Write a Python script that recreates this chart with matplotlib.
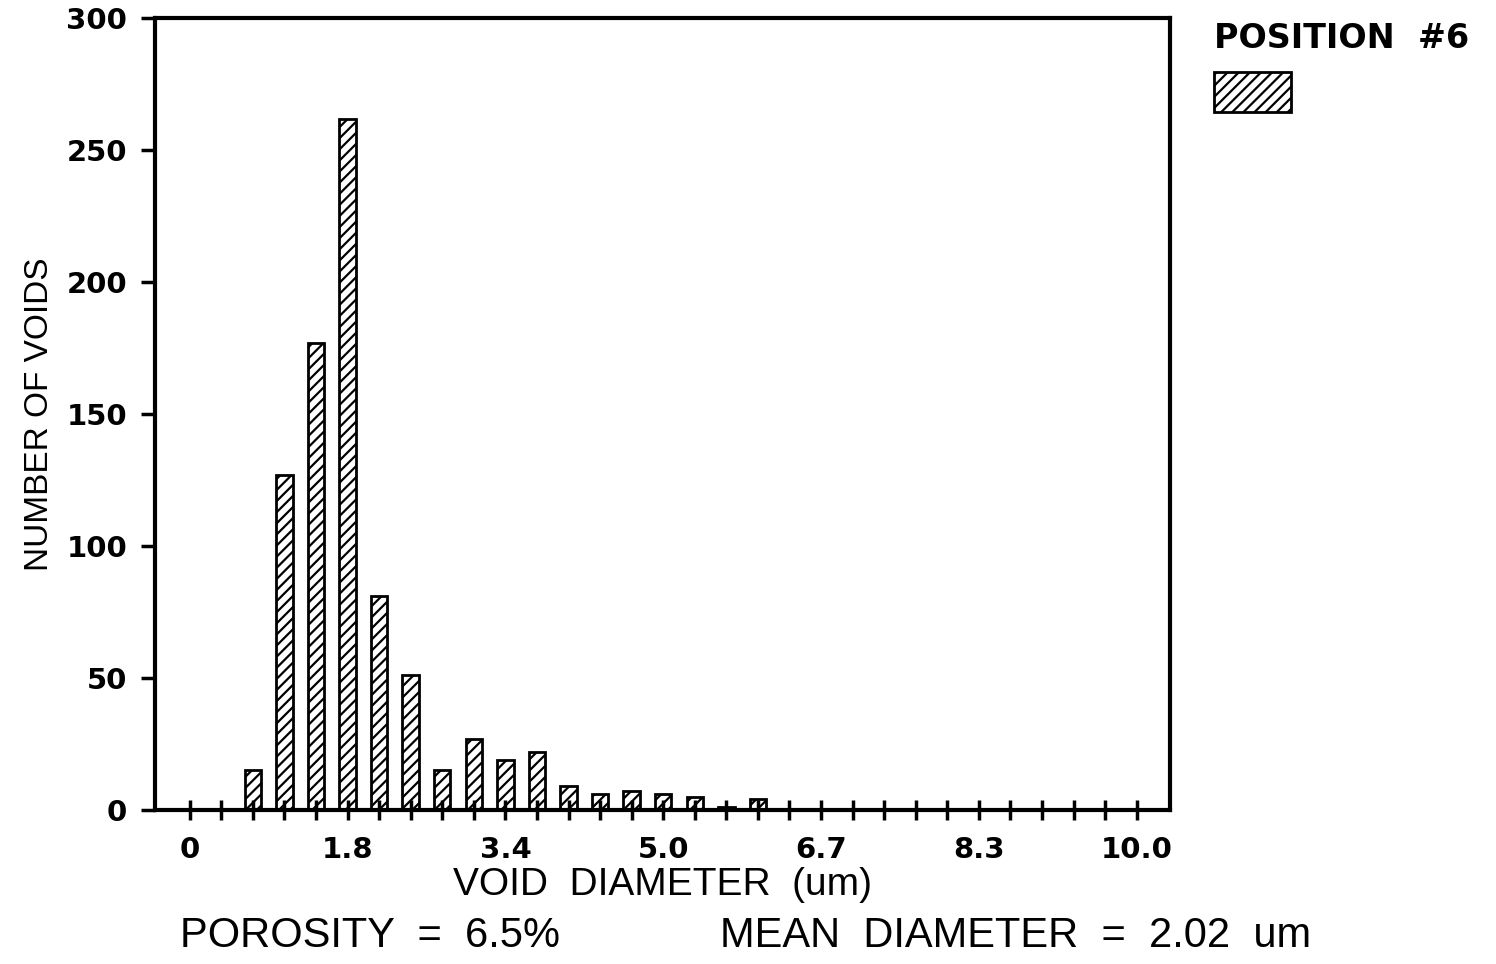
import matplotlib
matplotlib.use('Agg')
from matplotlib import pyplot as plt
from matplotlib.patches import Patch

#%% Data
bin_index = list(range(31))
n_voids = [0, 0, 15, 127, 177, 262, 81, 51, 15, 27, 19, 22, 9, 6, 7, 6, 5, 1, 4,
           0, 0, 0, 0, 0, 0, 0, 0, 0, 0, 0, 0]
tick_labels = {0: '0', 5: '1.8', 10: '3.4', 15: '5.0', 20: '6.7', 25: '8.3', 30: '10.0'}
y_ticks = [0, 50, 100, 150, 200, 250, 300]

narrow = ['Liberation Sans', 'DejaVu Sans']

#%% Plot
plt.rcParams['hatch.linewidth'] = 1.6
fig = plt.figure(figsize=(14.96, 9.64), dpi=100)
ax = fig.add_axes([0.1036, 0.1598, 0.6784, 0.8212])

ax.bar(bin_index, n_voids, width=0.52, color='white', edgecolor='black',
       linewidth=2, hatch='///')

ax.set_xlim(-1.1, 31.05)
ax.set_ylim(0, 300)
ax.set_xticks(bin_index)
ax.set_xticklabels([tick_labels.get(i, '') for i in bin_index])
ax.set_yticks(y_ticks)
ax.tick_params(axis='x', direction='inout', length=14, width=2.5, pad=12,
               labelsize=21)
ax.tick_params(axis='y', direction='out', length=10, width=2.5, pad=10,
               labelsize=21)
for lab in ax.get_xticklabels() + ax.get_yticklabels():
    lab.set_fontweight('bold')
for sp in ax.spines.values():
    sp.set_linewidth(3)

ax.set_ylabel('NUMBER OF VOIDS', family=narrow, fontsize=24, labelpad=8)
ax.set_xlabel('VOID  DIAMETER  (um)', family=narrow, fontsize=28, labelpad=2)

fig.text(0.12, 0.018, 'POROSITY  =  6.5%', family=narrow, fontsize=30)
fig.text(0.481, 0.018, 'MEAN  DIAMETER  =  2.02  um', family=narrow, fontsize=30)

handle = Patch(facecolor='white', edgecolor='black', hatch='///', linewidth=2)
leg = fig.legend([handle], [' '], loc='upper left',
                 bbox_to_anchor=(0.7915, 1.008), frameon=False,
                 title='POSITION  #6', fontsize=24, handlelength=2.3,
                 handleheight=1.45, handletextpad=0.2)
leg.get_title().set_fontweight('bold')
leg.get_title().set_fontsize(24)
leg._legend_box.align = 'left'

plt.savefig('out.png', dpi=100)
